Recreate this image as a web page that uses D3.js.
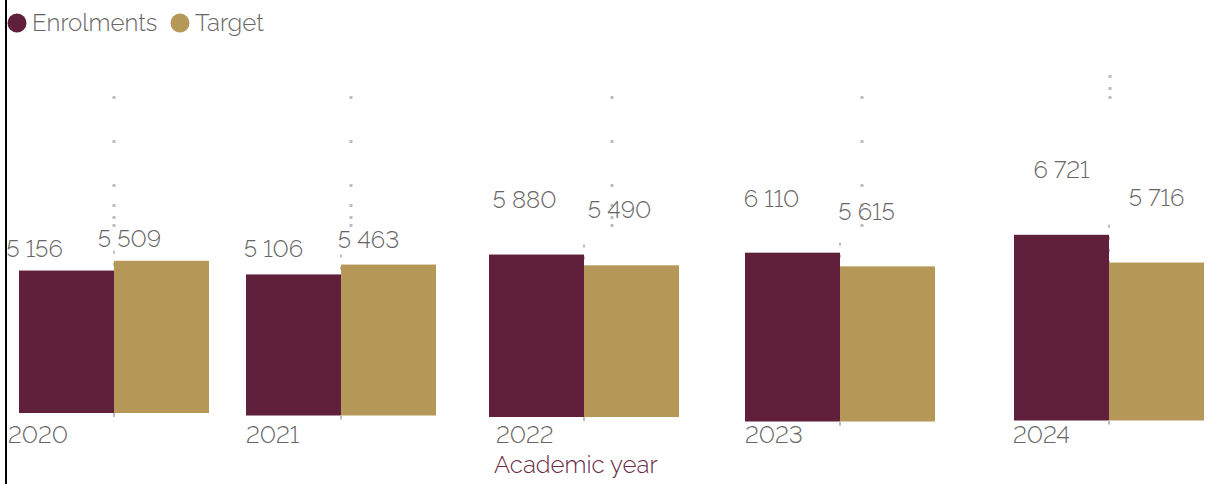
<!DOCTYPE html>
<html>
<head>
<meta charset="utf-8">
<script src="https://cdn.jsdelivr.net/npm/d3@7"></script>
<style>
  body { margin: 0; background: #fff; }
  svg text {
    font-family: "Raleway", "Open Sans", "Lato", sans-serif;
    font-weight: 300;
    font-feature-settings: "lnum" 1;
    font-variant-numeric: lining-nums;
  }
</style>
</head>
<body>
<svg id="chart" width="1216" height="484"></svg>
<script>
/*=====================================================================
 data
======================================================================*/
var years = ["2020", "2021", "2022", "2023", "2024"];
var enrolments = [5156, 5106, 5880, 6110, 6721];
var targets = [5509, 5463, 5490, 5615, 5716];
var seriesNames = ["Enrolments", "Target"];

/*=====================================================================
 layout (the picture drifts a little from group to group)
======================================================================*/
var colours = ["#601f3a", "#b59757"];
var labelLift = [14, 17, 47, 46, 57];      // gap between bar top and value label
var labelShift = [-32, -20, -12, -21, 0];  // value label offset from bar centre
var guideShift = [0, 10, 28, 22, 1];       // upper dotted guide offset
var guideTop = [96, 96, 96, 96, 75];

var svg = d3.select("#chart");

// group position along x, spreading slightly wider to the right
var xGroup = d3.scaleLinear().domain([0, 1, 2, 3, 4]).range([19, 246, 489, 745, 1014]);
// each group sits on its own slightly lower baseline
var yBase = d3.scaleLinear().domain([0, 1, 2, 3, 4]).range([413, 415.5, 417, 421.5, 420.5]);
var barWidth = 95;
var h = d3.scaleLinear().domain([0, 7000]).range([0, 193.4]);

var rows = years.map(function (y, i) {
    return { year: y, i: i, values: [enrolments[i], targets[i]] };
});

// left border
svg.append("line")
    .attr("x1", 6).attr("x2", 6)
    .attr("y1", 0).attr("y2", 484)
    .attr("stroke", "#000")
    .attr("stroke-width", 2);

/*****************
 dotted guides 
******************/
var guides = svg.append("g");
rows.forEach(function (d) {
    var mid = xGroup(d.i) + barWidth;
    guides.append("line")
        .attr("x1", mid + guideShift[d.i]).attr("x2", mid + guideShift[d.i])
        .attr("y1", guideTop[d.i]).attr("y2", guideTop[d.i] + 132)
        .attr("stroke", "#bdbdbd")
        .attr("stroke-width", 3)
        .attr("stroke-dasharray", d.i == 4 ? "3,9,3,6,3,200" : "3,41,3,41,3,17,3,9,3,5,3,200");
    guides.append("line")
        .attr("x1", mid).attr("x2", mid)
        .attr("y1", yBase(d.i) - h(d3.max(d.values)) - 10)
        .attr("y2", yBase(d.i) + 4)
        .attr("stroke", "#bdbdbd")
        .attr("stroke-width", 2)
        .attr("stroke-dasharray", "3,9");
});

/*****************
 bars 
******************/
var groups = svg.selectAll("g.year")
    .data(rows)
    .enter().append("g")
    .attr("class", "year");

groups.selectAll("rect")
    .data(function (d) {
        return d.values.map(function (v, k) { return { v: v, k: k, i: d.i }; });
    })
    .enter().append("rect")
    .attr("x", function (d) { return xGroup(d.i) + d.k * barWidth; })
    .attr("y", function (d) { return yBase(d.i) - h(d.v); })
    .attr("width", barWidth)
    .attr("height", function (d) { return h(d.v); })
    .attr("fill", function (d) { return colours[d.k]; });

// tiny guide stubs below the bars
rows.forEach(function (d) {
    var mid = xGroup(d.i) + barWidth;
    svg.append("line")
        .attr("x1", mid).attr("x2", mid)
        .attr("y1", yBase(d.i)).attr("y2", yBase(d.i) + 4)
        .attr("stroke", "#bdbdbd")
        .attr("stroke-width", 2);
});

var fmt = function (v) { return d3.format(",")(v).replace(",", " "); };

groups.selectAll("text.value")
    .data(function (d) {
        return d.values.map(function (v, k) { return { v: v, k: k, i: d.i }; });
    })
    .enter().append("text")
    .attr("class", "value")
    .attr("x", function (d) { return xGroup(d.i) + d.k * barWidth + barWidth / 2 + labelShift[d.i]; })
    .attr("y", function (d) { return yBase(d.i) - h(d.v) - labelLift[d.i]; })
    .attr("text-anchor", "middle")
    .attr("font-size", 24)
    .attr("fill", "#666")
    .text(function (d) { return fmt(d.v); });

// year labels
groups.append("text")
    .attr("x", function (d) { return xGroup(d.i) + [-11, 0, 7, 0, -1][d.i]; })
    .attr("y", 443)
    .attr("font-size", 24)
    .attr("fill", "#666")
    .text(function (d) { return d.year; });

// axis title
svg.append("text")
    .attr("x", 494)
    .attr("y", 473)
    .attr("font-size", 24)
    .attr("fill", "#6b2a45")
    .text("Academic year");

/*****************
 legend 
******************/
var legend = svg.append("g");
var legendX = [17, 180];
seriesNames.forEach(function (name, k) {
    legend.append("circle")
        .attr("cx", legendX[k]).attr("cy", 23)
        .attr("r", 9.5)
        .attr("fill", colours[k]);
    legend.append("text")
        .attr("x", legendX[k] + 15)
        .attr("y", 31)
        .attr("font-size", 24)
        .attr("fill", "#666")
        .text(name);
});
</script>
</body>
</html>
